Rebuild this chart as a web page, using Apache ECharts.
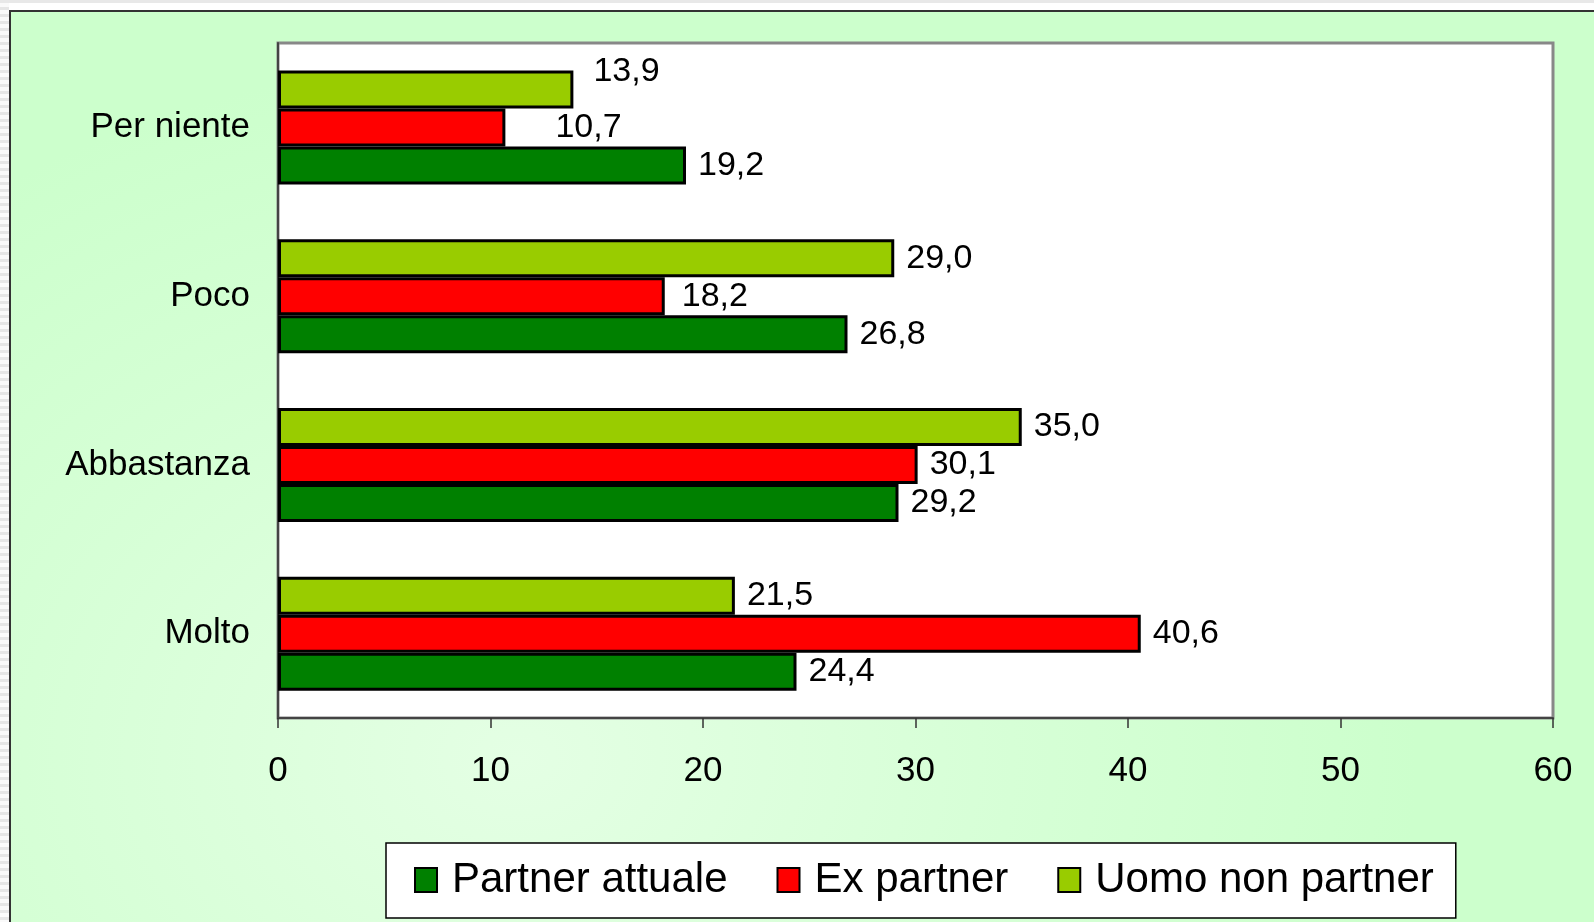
<!DOCTYPE html>
<html>
<head>
<meta charset="utf-8">
<title>Violenza - partner</title>
<script src="https://cdn.jsdelivr.net/npm/echarts@6/dist/echarts.min.js"></script>
<style>
    html, body { margin: 0; padding: 0; background: #fff; overflow: hidden; }
    .stripes {
        position: absolute; left: 0; top: 0; width: 9px; height: 922px;
        background: repeating-linear-gradient(to bottom, #e6e6e6 0 3px, #fafafa 3px 7px);
    }
    .topline { position: absolute; left: 0; top: 0; width: 1594px; height: 3px; background: #e8e8e8; }
    .frame {
        position: absolute; left: 9px; top: 10px; width: 1585px; height: 912px;
        box-sizing: border-box;
        border-left: 2px solid #333; border-top: 2px solid #333;
        background: radial-gradient(ellipse 900px 700px at 32% 82%, #e4ffe4 0%, #d6ffd6 55%, #ccffcc 100%);
    }
    #chart { position: absolute; left: 0; top: 0; width: 1594px; height: 922px; }
</style>
</head>
<body>
<div class="stripes"></div>
<div class="topline"></div>
<div class="frame"></div>
<div id="chart"></div>
<script>
    // categories from the bottom of the chart to the top
    const categories = ['Molto', 'Abbastanza', 'Poco', 'Per niente'];
    const xTicks = [0, 10, 20, 30, 40, 50, 60];

    const partnerAttuale = [24.4, 29.2, 26.8, 19.2];
    const exPartner = [40.6, 30.1, 18.2, 10.7];
    const uomoNonPartner = [21.5, 35.0, 29.0, 13.9];

    const legendNames = ['Partner attuale', 'Ex partner', 'Uomo non partner'];

    const FONT = "'Liberation Sans', Arial, sans-serif";

    // excel moved a few labels away from the bar end
    const labelShift = {
        'Uomo non partner|Per niente': [8, -18],
        'Ex partner|Per niente': [38, 0],
        'Ex partner|Poco': [5, 0]
    };

    function makeSeries(name, values, color) {
        return {
            name: name,
            type: 'bar',
            barWidth: 38,
            barGap: '0%',
            itemStyle: { color: color, borderColor: '#000', borderWidth: 3 },
            label: {
                show: true,
                position: 'right',
                distance: 12,
                color: '#000',
                fontSize: 34,
                fontFamily: FONT,
                formatter: function (p) { return p.value.toFixed(1).replace('.', ','); }
            },
            data: values.map(function (v, i) {
                const shift = labelShift[name + '|' + categories[i]];
                return shift ? { value: v, label: { offset: shift } } : v;
            })
        };
    }

    let myChart = echarts.init(document.getElementById('chart'));
    myChart.setOption({
        backgroundColor: 'transparent',
        animation: false,
        textStyle: { fontFamily: FONT },
        grid: {
            left: 278, right: 41, top: 43, bottom: 204,
            show: true,
            backgroundColor: '#fff',
            borderColor: '#888',
            borderWidth: 3,
            outerBoundsMode: 'none'
        },
        legend: {
            data: legendNames,
            left: 386,
            top: 843,
            orient: 'horizontal',
            itemWidth: 22,
            itemHeight: 24,
            itemGap: 49,
            padding: [16, 22, 17, 28],
            backgroundColor: '#fff',
            borderColor: '#000',
            borderWidth: 1.5,
            borderRadius: 0,
            icon: 'rect',
            itemStyle: { borderColor: '#000', borderWidth: 2 },
            textStyle: { fontSize: 42, color: '#000', fontFamily: FONT, padding: [0, 0, 0, 10] }
        },
        xAxis: {
            type: 'value',
            min: xTicks[0],
            max: xTicks[xTicks.length - 1],
            interval: xTicks[1] - xTicks[0],
            axisLine: { show: true, lineStyle: { color: '#444', width: 2 } },
            axisTick: { show: true, length: 10, lineStyle: { color: '#333', width: 1.5 } },
            axisLabel: { fontSize: 35, color: '#000', margin: 36, fontFamily: FONT },
            splitLine: { show: false }
        },
        yAxis: {
            type: 'category',
            data: categories,
            axisLine: { show: true, lineStyle: { color: '#444', width: 2 } },
            axisTick: { show: false },
            axisLabel: { fontSize: 35, color: '#000', margin: 28, fontFamily: FONT, interval: 0 }
        },
        series: [
            makeSeries('Uomo non partner', uomoNonPartner, '#99cc00'),
            makeSeries('Ex partner', exPartner, '#ff0000'),
            makeSeries('Partner attuale', partnerAttuale, '#008000')
        ]
    });
</script>
</body>
</html>
